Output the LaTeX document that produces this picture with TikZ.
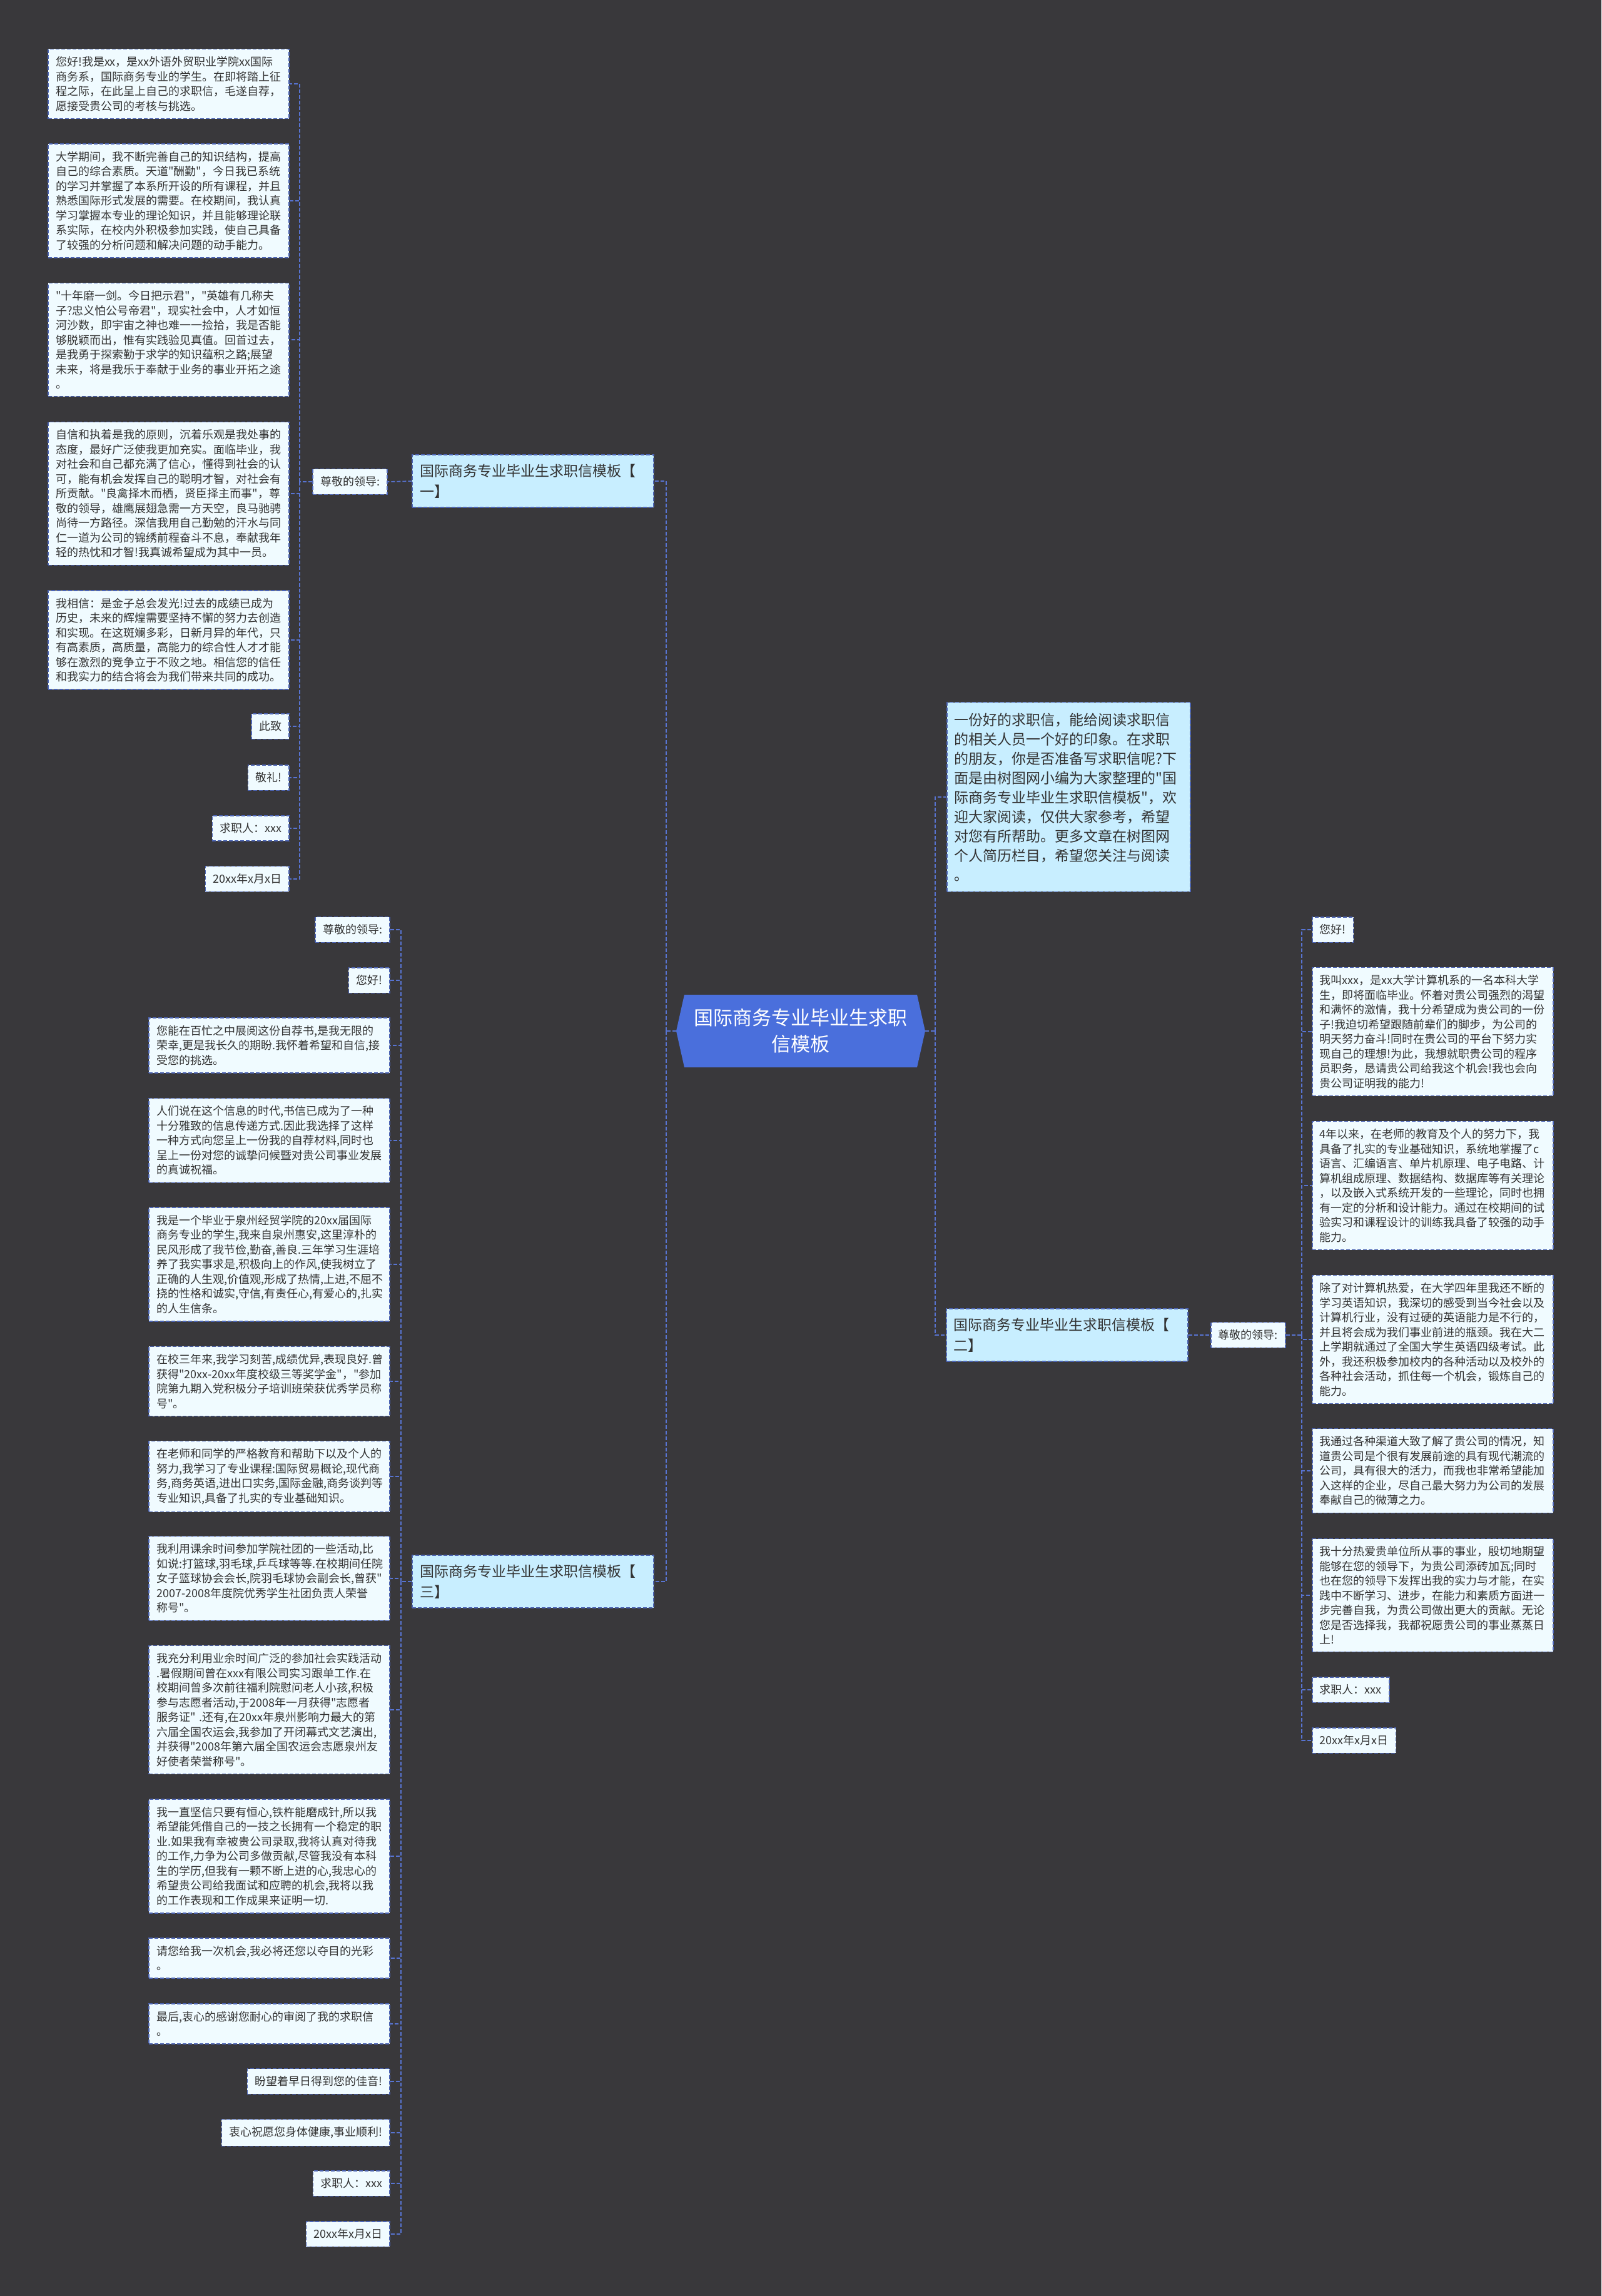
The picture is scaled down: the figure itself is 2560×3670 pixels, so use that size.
\documentclass[tikz,border=0pt]{standalone}
\usepackage{fontspec}
\setmainfont{Noto Sans CJK SC}[Ligatures=TeXOff]
\usetikzlibrary{positioning,calc}
\definecolor{bgc}{HTML}{39383B}
\definecolor{leaffill}{HTML}{F0FBFF}
\definecolor{brfill}{HTML}{C8EEFF}
\definecolor{ctrfill}{HTML}{4A6FDC}
\definecolor{bordc}{HTML}{4C64B4}
\definecolor{linec}{HTML}{5874D2}
\definecolor{txt}{HTML}{333333}
\tikzset{
  box/.style={draw=bordc, line width=1.6pt, dash pattern=on 6pt off 3pt, fill=leaffill, text=txt,
    inner xsep=12pt, inner ysep=12pt, font=\fontsize{18pt}{23.5pt}\selectfont},
  tag/.style={box},
  para/.style={box, text width=361pt, align=left},
  branch/.style={box, fill=brfill, font=\fontsize{23pt}{33pt}\selectfont, text width=362pt, align=left, inner ysep=15pt},
  intro/.style={branch, text width=365pt, font=\fontsize{23pt}{31pt}\selectfont, inner ysep=17pt},
  link/.style={draw=linec, line width=1.6pt, dash pattern=on 6pt off 3pt},
}
\begin{document}
\begin{tikzpicture}[x=1pt,y=-1pt]
\fill[bgc] (0,0) rectangle (2560,3670);
\useasboundingbox (0,0) rectangle (2560,3670);

% centre
\fill[ctrfill] (1081,1648) -- (1094,1590) -- (1466,1590) -- (1479,1648) -- (1466,1706) -- (1094,1706) -- cycle;
\node (ctr) at (1280,1648) [minimum width=398pt, minimum height=116pt, text=white, align=center,
  font=\fontsize{31pt}{42pt}\selectfont] {国际商务专业毕业生求职\\信模板};

% template one
\node[branch, anchor=east] (b1) at (1046,769) {国际商务专业毕业生求职信模板【\\一】};
\node[tag, anchor=east] (lbl1) at (620,770) {尊敬的领导:};
\node[para, anchor=east] (a1) at (463,134) {您好!我是xx，是xx外语外贸职业学院xx国际\\商务系，国际商务专业的学生。在即将踏上征\\程之际，在此呈上自己的求职信，毛遂自荐，\\愿接受贵公司的考核与挑选。};
\node[para, anchor=east] (a2) at (463,321) {大学期间，我不断完善自己的知识结构，提高\\自己的综合素质。天道"酬勤"，今日我已系统\\的学习并掌握了本系所开设的所有课程，并且\\熟悉国际形式发展的需要。在校期间，我认真\\学习掌握本专业的理论知识，并且能够理论联\\系实际，在校内外积极参加实践，使自己具备\\了较强的分析问题和解决问题的动手能力。};
\node[para, anchor=east] (a3) at (463,543) {"十年磨一剑。今日把示君"，"英雄有几称夫\\子?忠义怕公号帝君"，现实社会中，人才如恒\\河沙数，即宇宙之神也难一一捡拾，我是否能\\够脱颖而出，惟有实践验见真值。回首过去，\\是我勇于探索勤于求学的知识蕴积之路;展望\\未来，将是我乐于奉献于业务的事业开拓之途\\。};
\node[para, anchor=east] (a4) at (463,789) {自信和执着是我的原则，沉着乐观是我处事的\\态度，最好广泛使我更加充实。面临毕业，我\\对社会和自己都充满了信心，懂得到社会的认\\可，能有机会发挥自己的聪明才智，对社会有\\所贡献。"良禽择木而栖，贤臣择主而事"，尊\\敬的领导，雄鹰展翅急需一方天空，良马驰骋\\尚待一方路径。深信我用自己勤勉的汗水与同\\仁一道为公司的锦绣前程奋斗不息，奉献我年\\轻的热忱和才智!我真诚希望成为其中一员。};
\node[para, anchor=east] (a5) at (463,1023) {我相信：是金子总会发光!过去的成绩已成为\\历史，未来的辉煌需要坚持不懈的努力去创造\\和实现。在这斑斓多彩，日新月异的年代，只\\有高素质，高质量，高能力的综合性人才才能\\够在激烈的竞争立于不败之地。相信您的信任\\和我实力的结合将会为我们带来共同的成功。};
\node[tag, anchor=east] (a6) at (463,1161) {此致};
\node[tag, anchor=east] (a7) at (463,1243) {敬礼!};
\node[tag, anchor=east] (a8) at (463,1324) {求职人：xxx};
\node[tag, anchor=east] (a9) at (463,1405) {20xx年x月x日};
\coordinate (sp1) at (479,770);

% template three
\node[branch, anchor=east] (b3) at (1046,2528) {国际商务专业毕业生求职信模板【\\三】};
\node[tag, anchor=east] (c1) at (624,1486) {尊敬的领导:};
\node[tag, anchor=east] (c2) at (624,1567) {您好!};
\node[para, anchor=east] (c3) at (624,1671) {您能在百忙之中展阅这份自荐书,是我无限的\\荣幸,更是我长久的期盼.我怀着希望和自信,接\\受您的挑选。};
\node[para, anchor=east] (c4) at (624,1823) {人们说在这个信息的时代,书信已成为了一种\\十分雅致的信息传递方式.因此我选择了这样\\一种方式向您呈上一份我的自荐材料,同时也\\呈上一份对您的诚挚问候暨对贵公司事业发展\\的真诚祝福。};
\node[para, anchor=east] (c5) at (624,2021) {我是一个毕业于泉州经贸学院的20xx届国际\\商务专业的学生,我来自泉州惠安,这里淳朴的\\民风形成了我节俭,勤奋,善良.三年学习生涯培\\养了我实事求是,积极向上的作风,使我树立了\\正确的人生观,价值观,形成了热情,上进,不屈不\\挠的性格和诚实,守信,有责任心,有爱心的,扎实\\的人生信条。};
\node[para, anchor=east] (c6) at (624,2208) {在校三年来,我学习刻苦,成绩优异,表现良好.曾\\获得"20xx-20xx年度校级三等奖学金"，"参加\\院第九期入党积极分子培训班荣获优秀学员称\\号"。};
\node[para, anchor=east] (c7) at (624,2360) {在老师和同学的严格教育和帮助下以及个人的\\努力,我学习了专业课程:国际贸易概论,现代商\\务,商务英语,进出口实务,国际金融,商务谈判等\\专业知识,具备了扎实的专业基础知识。};
\node[para, anchor=east] (c8) at (624,2523) {我利用课余时间参加学院社团的一些活动,比\\如说:打篮球,羽毛球,乒乓球等等.在校期间任院\\女子篮球协会会长,院羽毛球协会副会长,曾获"\\2007-2008年度院优秀学生社团负责人荣誉\\称号"。};
\node[para, anchor=east] (c9) at (624,2733) {我充分利用业余时间广泛的参加社会实践活动\\.暑假期间曾在xxx有限公司实习跟单工作.在\\校期间曾多次前往福利院慰问老人小孩,积极\\参与志愿者活动,于2008年一月获得"志愿者\\服务证" .还有,在20xx年泉州影响力最大的第\\六届全国农运会,我参加了开闭幕式文艺演出,\\并获得"2008年第六届全国农运会志愿泉州友\\好使者荣誉称号"。};
\node[para, anchor=east] (c10) at (624,2967) {我一直坚信只要有恒心,铁杵能磨成针,所以我\\希望能凭借自己的一技之长拥有一个稳定的职\\业.如果我有幸被贵公司录取,我将认真对待我\\的工作,力争为公司多做贡献,尽管我没有本科\\生的学历,但我有一颗不断上进的心,我忠心的\\希望贵公司给我面试和应聘的机会,我将以我\\的工作表现和工作成果来证明一切.};
\node[para, anchor=east] (c11) at (624,3130) {请您给我一次机会,我必将还您以夺目的光彩\\。};
\node[para, anchor=east] (c12) at (624,3235) {最后,衷心的感谢您耐心的审阅了我的求职信\\。};
\node[tag, anchor=east] (c13) at (624,3327) {盼望着早日得到您的佳音!};
\node[tag, anchor=east] (c14) at (624,3409) {衷心祝愿您身体健康,事业顺利!};
\node[tag, anchor=east] (c15) at (624,3490) {求职人：xxx};
\node[tag, anchor=east] (c16) at (624,3571) {20xx年x月x日};
\coordinate (sp3) at (641,2528);

% right side
\node[intro, anchor=west] (intro) at (1513,1274) {一份好的求职信，能给阅读求职信\\的相关人员一个好的印象。在求职\\的朋友，你是否准备写求职信呢?下\\面是由树图网小编为大家整理的"国\\际商务专业毕业生求职信模板"，欢\\迎大家阅读，仅供大家参考，希望\\对您有所帮助。更多文章在树图网\\个人简历栏目，希望您关注与阅读\\。};
\node[branch, anchor=west] (b2) at (1512,2134) {国际商务专业毕业生求职信模板【\\二】};
\node[tag, anchor=west] (lbl2) at (1935,2134) {尊敬的领导:};
\node[tag, anchor=west] (d1) at (2097,1486) {您好!};
\node[para, anchor=west] (d2) at (2097,1649) {我叫xxx，是xx大学计算机系的一名本科大学\\生，即将面临毕业。怀着对贵公司强烈的渴望\\和满怀的激情，我十分希望成为贵公司的一份\\子!我迫切希望跟随前辈们的脚步，为公司的\\明天努力奋斗!同时在贵公司的平台下努力实\\现自己的理想!为此，我想就职贵公司的程序\\员职务，恳请贵公司给我这个机会!我也会向\\贵公司证明我的能力!};
\node[para, anchor=west] (d3) at (2097,1895) {4年以来，在老师的教育及个人的努力下，我\\具备了扎实的专业基础知识，系统地掌握了c\\语言、汇编语言、单片机原理、电子电路、计\\算机组成原理、数据结构、数据库等有关理论\\，以及嵌入式系统开发的一些理论，同时也拥\\有一定的分析和设计能力。通过在校期间的试\\验实习和课程设计的训练我具备了较强的动手\\能力。};
\node[para, anchor=west] (d4) at (2097,2141) {除了对计算机热爱，在大学四年里我还不断的\\学习英语知识，我深切的感受到当今社会以及\\计算机行业，没有过硬的英语能力是不行的，\\并且将会成为我们事业前进的瓶颈。我在大二\\上学期就通过了全国大学生英语四级考试。此\\外，我还积极参加校内的各种活动以及校外的\\各种社会活动，抓住每一个机会，锻炼自己的\\能力。};
\node[para, anchor=west] (d5) at (2097,2351) {我通过各种渠道大致了解了贵公司的情况，知\\道贵公司是个很有发展前途的具有现代潮流的\\公司，具有很大的活力，而我也非常希望能加\\入这样的企业，尽自己最大努力为公司的发展\\奉献自己的微薄之力。};
\node[para, anchor=west] (d6) at (2097,2550) {我十分热爱贵单位所从事的事业，殷切地期望\\能够在您的领导下，为贵公司添砖加瓦;同时\\也在您的领导下发挥出我的实力与才能，在实\\践中不断学习、进步，在能力和素质方面进一\\步完善自我，为贵公司做出更大的贡献。无论\\您是否选择我，我都祝愿贵公司的事业蒸蒸日\\上!};
\node[tag, anchor=west] (d7) at (2097,2701) {求职人：xxx};
\node[tag, anchor=west] (d8) at (2097,2782) {20xx年x月x日};
\coordinate (sp2) at (2081,2134);

% connectors
\coordinate (hubL) at (1065,1648);
\coordinate (hubR) at (1495,1648);
\draw[link] (ctr.west) -- (hubL);
\draw[link] (hubL) |- (b1.east);
\draw[link] (hubL) |- (b3.east);
\draw[link] (ctr.east) -- (hubR);
\draw[link] (hubR) |- (intro.west);
\draw[link] (hubR) |- (b2.west);
\draw[link] (b1.west) -- (lbl1.east);
\draw[link] (lbl1.west) -- (sp1);
\foreach \n in {a1,a2,a3,a4,a5,a6,a7,a8,a9}
  \draw[link] (sp1) |- (\n.east);
\draw[link] (b3.west) -- (sp3);
\foreach \n in {c1,c2,c3,c4,c5,c6,c7,c8,c9,c10,c11,c12,c13,c14,c15,c16}
  \draw[link] (sp3) |- (\n.east);
\draw[link] (b2.east) -- (lbl2.west);
\draw[link] (lbl2.east) -- (sp2);
\foreach \n in {d1,d2,d3,d4,d5,d6,d7,d8}
  \draw[link] (sp2) |- (\n.west);
\end{tikzpicture}
\end{document}
